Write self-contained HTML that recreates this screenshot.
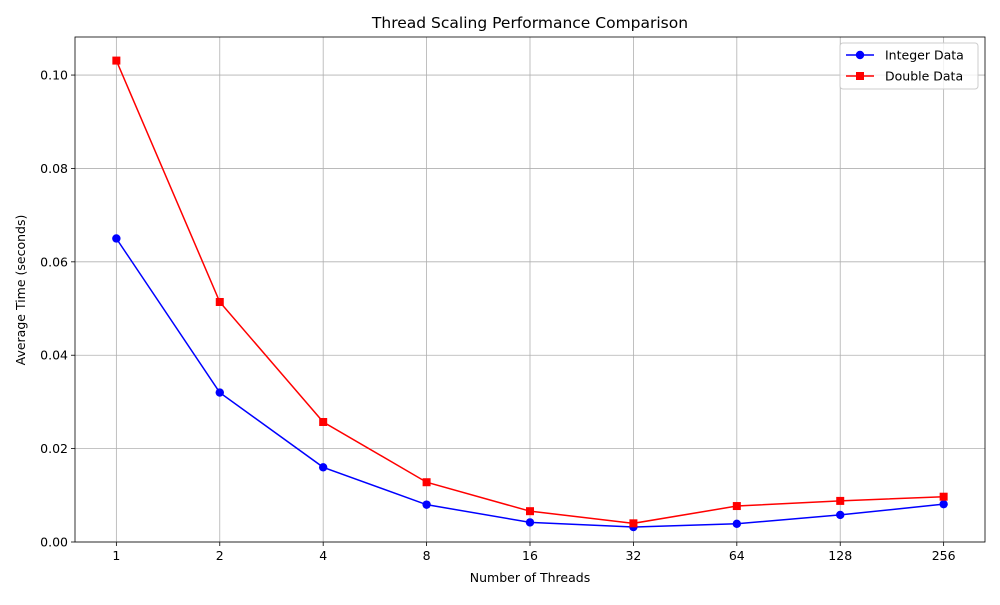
<!DOCTYPE html>
<html><head><meta charset="utf-8"><style>
body{margin:0;background:#fff;font-family:"Liberation Sans","DejaVu Sans",sans-serif;}
svg text{font-family:"DejaVu Sans","Liberation Sans",sans-serif;}
</style></head><body>
<svg id="chart" width="1000" height="600" xmlns="http://www.w3.org/2000/svg"></svg>
<script>
const categories=["1","2","4","8","16","32","64","128","256"];
const integerValues=[0.065,0.032,0.016,0.008,0.0042,0.0032,0.0039,0.0058,0.0081];
const doubleValues=[0.1031,0.0514,0.0257,0.0128,0.0066,0.0040,0.0077,0.0088,0.0097];
const yTicks=[0,0.02,0.04,0.06,0.08,0.10];
const yTickLabels=["0.00","0.02","0.04","0.06","0.08","0.10"];

const L=75,R=985,T=37,B=542;
const NS="http://www.w3.org/2000/svg";
const svg=document.getElementById('chart');
function x(i){return L+(i+0.4)*(R-L)/(categories.length-1+0.8);}
function y(v){return B-v*(B-T)/0.10815;}
function el(tag,attrs,parent){const e=document.createElementNS(NS,tag);for(const k in attrs)e.setAttribute(k,attrs[k]);(parent||svg).appendChild(e);return e;}

// grid
categories.forEach((c,i)=>{
  const g=el('line',{x1:x(i),x2:x(i),y1:T,y2:B,stroke:'#b0b0b0','stroke-width':0.8});
  
  
  el('line',{x1:x(i),x2:x(i),y1:B,y2:B+4,stroke:'#000','stroke-width':0.8});
  const t=el('text',{x:x(i),y:B+18,'text-anchor':'middle','font-size':12.5});
  t.textContent=c;
  
  
});
yTicks.forEach((v,i)=>{
  const g=el('line',{x1:L,x2:R,y1:y(v),y2:y(v),stroke:'#b0b0b0','stroke-width':0.8});
  
  
  el('line',{x1:L-4,x2:L,y1:y(v),y2:y(v),stroke:'#000','stroke-width':0.8});
  const t=el('text',{x:L-7,y:y(v)+4.5,'text-anchor':'end','font-size':12.5});
  t.textContent=yTickLabels[i];
  
  
});
const frame=el('rect',{x:L,y:T,width:R-L,height:B-T,fill:'none',stroke:'#000','stroke-width':0.8});



function series(vals,color,marker,name){
  const p=el('polyline',{points:vals.map((v,i)=>x(i)+','+y(v)).join(' '),fill:'none',stroke:color,'stroke-width':1.5});
  
  
  vals.forEach((v,i)=>{
    let m;
    if(marker==='o') m=el('circle',{cx:x(i),cy:y(v),r:4.2,fill:color});
    else m=el('rect',{x:x(i)-4,y:y(v)-4,width:8,height:8,fill:color});
    
    
  });
}
series(integerValues,'#0000ff','o','integer');
series(doubleValues,'#ff0000','s','double');

// titles
let t=el('text',{x:530,y:28,'text-anchor':'middle','font-size':15.5});
t.textContent='Thread Scaling Performance Comparison';


t=el('text',{x:530,y:582,'text-anchor':'middle','font-size':12.5});
t.textContent='Number of Threads';


t=el('text',{x:25,y:290,'text-anchor':'middle','font-size':12.5,transform:'rotate(-90 25 290)'});
t.textContent='Average Time (seconds)';



// legend
const lg=el('g',{});


el('rect',{x:840,y:43,width:138,height:46,rx:3,fill:'#fff','fill-opacity':0.8,stroke:'#ccc'},lg);
[['Integer Data','#0000ff','o'],['Double Data','#ff0000','s']].forEach((d,i)=>{
  const yy=55+i*21;
  const g=el('g',{},lg);
  
  
  el('line',{x1:846,x2:874,y1:yy,y2:yy,stroke:d[1],'stroke-width':1.5},g);
  if(d[2]==='o') el('circle',{cx:860,cy:yy,r:4.2,fill:d[1]},g);
  else el('rect',{x:856,y:yy-4,width:8,height:8,fill:d[1]},g);
  const tx=el('text',{x:885,y:yy+4.5,'font-size':12.5},g);
  tx.textContent=d[0];
});
</script>
</body></html>
